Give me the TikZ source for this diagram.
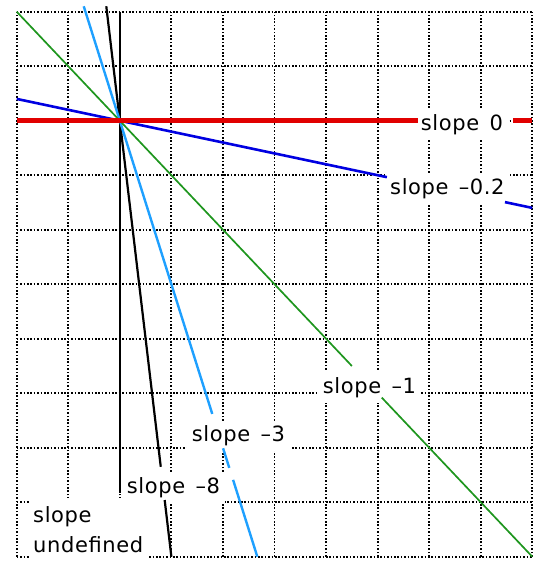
\documentclass[tikz,border=0pt]{standalone}
\usepackage{fontspec}
\newfontfamily\labfont[WordSpace=1.4,LetterSpace=3]{DejaVu Sans}
\definecolor{lred}{RGB}{225,0,0}
\definecolor{lblue}{RGB}{0,0,225}
\definecolor{lgreen}{RGB}{30,150,30}
\definecolor{lcyan}{RGB}{30,160,255}
\tikzset{
  gridline/.style={black, line width=1.8pt, dash pattern=on 1.6pt off 1.8pt},
  lab/.style={fill=white, inner xsep=5pt, inner ysep=5pt, anchor=base west,
    font=\labfont\fontsize{21pt}{30pt}\selectfont, xshift=-5pt},
  redline/.style={lred, line width=4.5pt},
  blueline/.style={lblue, line width=2.6pt},
  greenline/.style={lgreen, line width=1.7pt},
  cyanline/.style={lcyan, line width=2.4pt},
  blackline/.style={black, line width=2.2pt}
}
\begin{document}
\begin{tikzpicture}[x=51.56pt, y=54.5pt]
\useasboundingbox[fill=white] (-0.324,-0.079) rectangle (10.111,10.215);
% grid
\foreach \i in {0,...,10} {
  \draw[gridline] (\i,0) -- (\i,10);
  \draw[gridline] (0,\i) -- (10,\i);
}
% labels
\node[lab] (l0) at (7.836,7.82) {slope 0};
\node[lab] (l02) at (7.24,6.64) {slope –0.2};
\node[lab] (l1) at (5.935,3.0) {slope –1};
\node[lab] (l3) at (3.394,2.11) {slope –3};
\node[lab] (l8) at (2.133,1.163) {slope –8};
\node[lab, align=left, anchor=south west, inner xsep=4pt, inner ysep=8pt, xshift=1pt] (lu) at (0.316,-0.073) {slope\\undefined};
% lines
\coordinate (c) at (2,8);
\draw[blackline] (2,10) -- (c) -- (2,1.17);
\draw[blackline] (1.7375,10.1) -- (c) -- (2.794,1.65);
\draw[blackline] (2.87,1.04) -- (3,0);
\draw[cyanline] (1.3,10.1) -- (c) -- (3.793,2.62);
\draw[cyanline] (4.003,1.99) -- (4.123,1.63);
\draw[cyanline] (4.197,1.41) -- (4.667,0);
\draw[greenline] (0,10) -- (c) -- (6.5,3.5);
\draw[greenline] (7.08,2.92) -- (10,0);
\draw[blueline] (0,8.4) -- (c) -- (7.18,6.964);
\draw[blueline] (9.47,6.506) -- (10,6.4);
\draw[redline] (0,8) -- (c) -- (7.78,8);
\draw[redline] (9.63,8) -- (10,8);
\end{tikzpicture}
\end{document}
